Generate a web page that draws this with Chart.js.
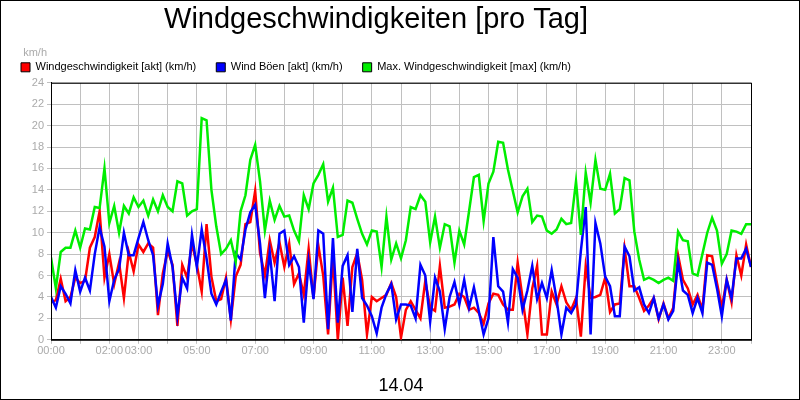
<!DOCTYPE html>
<html><head><meta charset="utf-8">
<script src="https://cdn.jsdelivr.net/npm/chart.js@4"></script>
<style>html,body{margin:0;padding:0;background:#fff}#w{width:798px;height:398px;border:1px solid #000;position:relative}canvas{display:block}</style>
</head><body><div id="w"><canvas id="c" width="798" height="398" style="width:798px;height:398px"></canvas></div>
<script>
const tickHours=[0,2,3,5,7,9,11,13,15,17,19,21,23];
const seriesNames=["Windgeschwindigkeit [akt] (km/h)","Wind Böen [akt] (km/h)","Max. Windgeschwindigkeit [max] (km/h)"];
// values every 10 minutes, 00:00 .. 24:00
const windAkt=[3.5,3.7,5.7,3.6,4.0,5.8, 5.3,5.5,8.6,9.6,12.0,5.8, 8.0,5.2,7.2,3.9,8.2,6.4, 8.9,8.2,9.0,8.6,2.3,6.2,
8.3,7.0,1.3,7.0,5.8,9.0, 7.0,4.5,10.8,5.9,3.6,3.8, 5.8,1.9,5.9,7.0,10.8,11.0, 13.9,8.1,6.0,9.3,7.2,9.1,
6.8,9.0,5.2,6.2,4.2,8.5, 3.9,8.8,6.0,0.5,7.8,0.0, 5.8,1.3,6.8,8.1,5.6,0.5, 4.0,3.6,3.9,4.2,5.3,4.0,
0.2,2.8,3.6,2.8,2.0,5.5, 3.0,2.7,6.9,3.0,3.1,3.3, 4.3,4.0,2.8,3.0,2.5,1.5, 3.4,4.3,4.2,3.3,2.8,2.8,
7.2,3.9,0.5,4.8,6.9,0.5, 0.5,4.5,3.3,5.0,3.5,2.8, 3.9,0.3,6.9,3.9,4.0,4.2, 5.8,2.6,3.3,3.4,8.5,5.0,
5.0,3.9,2.7,3.2,3.9,1.9, 3.4,2.0,3.0,7.9,5.6,4.8, 3.3,4.2,2.8,7.9,7.8,5.3, 3.0,5.6,3.5,7.9,6.0,8.9, 6.8];
const windBoeen=[4.0,3.0,5.0,4.3,3.4,6.5, 4.5,5.8,4.6,8.0,10.5,8.7, 3.6,5.6,6.6,10.0,7.9,7.9, 9.5,11.0,9.3,7.9,3.2,5.2,
9.0,6.8,2.2,5.8,4.8,9.8, 6.8,10.3,7.6,4.3,3.3,4.5, 5.6,1.8,8.1,7.5,10.3,11.9, 12.6,9.0,3.9,8.2,3.6,9.9,
10.2,7.0,7.8,6.8,1.6,7.3, 3.8,10.2,9.9,1.0,9.5,1.6, 6.9,7.9,2.6,8.5,3.9,3.2, 2.2,0.6,3.0,4.3,5.2,1.9,
3.3,3.3,3.2,2.0,7.0,6.0, 1.7,5.8,4.5,1.0,4.0,5.4, 3.3,5.6,3.0,4.9,2.7,0.5, 2.0,9.6,5.0,4.5,1.6,6.6,
5.8,2.8,4.6,6.9,3.8,5.3, 3.9,6.5,3.8,0.5,3.0,2.5, 3.3,8.3,12.4,0.5,10.9,9.0, 5.9,5.0,2.2,2.2,8.7,7.8,
4.6,4.9,3.3,2.5,3.9,2.0, 3.3,1.9,2.7,7.3,4.6,4.2, 2.5,3.9,2.5,7.2,7.0,4.8, 2.2,5.6,3.9,7.6,7.6,8.5, 6.8];
const windMax=[7.7,4.8,8.2,8.6,8.6,10.2, 8.6,10.4,10.3,12.4,12.3,16.0, 10.9,12.5,10.0,12.5,11.8,13.3, 12.4,13.0,11.6,13.1,12.0,13.5,
12.4,12.0,14.8,14.6,11.6,12.0, 12.2,20.7,20.5,14.0,10.6,8.0, 8.5,9.3,7.3,12.0,13.5,16.8, 18.2,14.8,10.2,13.0,11.2,12.5,
11.5,11.6,10.2,9.2,13.5,12.2, 14.6,15.4,16.4,12.9,14.2,9.6, 9.8,13.0,12.8,11.3,9.9,8.9, 10.2,10.1,6.8,11.5,7.5,9.0,
7.6,9.3,12.4,12.2,13.5,12.9, 9.1,11.5,8.6,10.8,10.6,7.2, 10.2,8.9,12.0,15.2,15.4,11.1, 14.6,15.7,18.5,18.4,15.9,13.9,
11.9,13.4,14.1,11.0,11.6,11.5, 10.2,9.9,10.3,11.3,10.8,10.9, 14.8,9.8,15.6,12.8,16.8,14.1, 14.0,15.5,11.8,12.2,15.1,14.9,
10.1,7.5,5.6,5.8,5.6,5.3, 5.6,5.8,5.5,10.1,9.3,9.2, 6.2,6.0,8.0,10.0,11.4,10.2, 7.1,8.0,10.2,10.1,9.9,10.8, 10.8];
const colors=["#ff0000","#0000ff","#00ee00"];
const toPts=a=>a.map((v,i)=>({x:i/6,y:v}));
const extra={id:'extra',afterDraw(ch){const c=ch.ctx;c.save();
 c.fillStyle='#aaa';c.font='11px "Liberation Sans"';c.textAlign='right';c.fillText('km/h',46,52);
 c.fillStyle='#000';c.font='18px "Liberation Sans"';c.textAlign='center';c.fillText('14.04',400,385);
 const a=ch.chartArea;c.strokeStyle='#000';c.lineWidth=1;c.strokeRect(a.left+0.5,a.top+0.5,a.right-a.left,a.bottom-a.top);
 c.restore();}};
new Chart(document.getElementById('c'),{type:'line',
 data:{datasets:[windAkt,windBoeen,windMax].map((d,i)=>({label:seriesNames[i],data:toPts(d),borderColor:colors[i],backgroundColor:colors[i],borderWidth:2.5,pointRadius:0,tension:0,order:2-i}))},
 options:{responsive:false,animation:false,devicePixelRatio:1,
  layout:{padding:{left:0,right:48,top:0,bottom:40}},
  plugins:{title:{display:true,text:'Windgeschwindigkeiten [pro Tag]',color:'#000',font:{family:'Liberation Sans',size:29,weight:'normal'},padding:{top:2,bottom:4}},
   legend:{align:'start',labels:{boxWidth:9,boxHeight:9,color:'#000',font:{family:'Liberation Sans',size:11},padding:20,
    generateLabels:ch=>ch.data.datasets.map((d,i)=>({text:d.label,fillStyle:colors[i],strokeStyle:'#000',lineWidth:1,datasetIndex:i}))}},
   tooltip:{enabled:false}},
  scales:{x:{type:'linear',min:0,max:24,border:{color:'#000'},grid:{color:'#c0c0c0',tickLength:4},
    afterBuildTicks:s=>{s.ticks=[];for(let h=0;h<=24;h++)s.ticks.push({value:h});},
    ticks:{autoSkip:false,maxRotation:0,color:'#aaa',font:{family:'Liberation Sans',size:11},padding:1,
     callback:v=>tickHours.includes(v)?String(v).padStart(2,'0')+':00':''}},
   y:{min:0,max:24,border:{color:'#000'},grid:{color:'#c0c0c0',tickLength:4},afterFit:s=>{s.width=50;},
    ticks:{stepSize:2,color:'#aaa',font:{family:'Liberation Sans',size:11},padding:3}}}},
 plugins:[extra]});
</script></body></html>
